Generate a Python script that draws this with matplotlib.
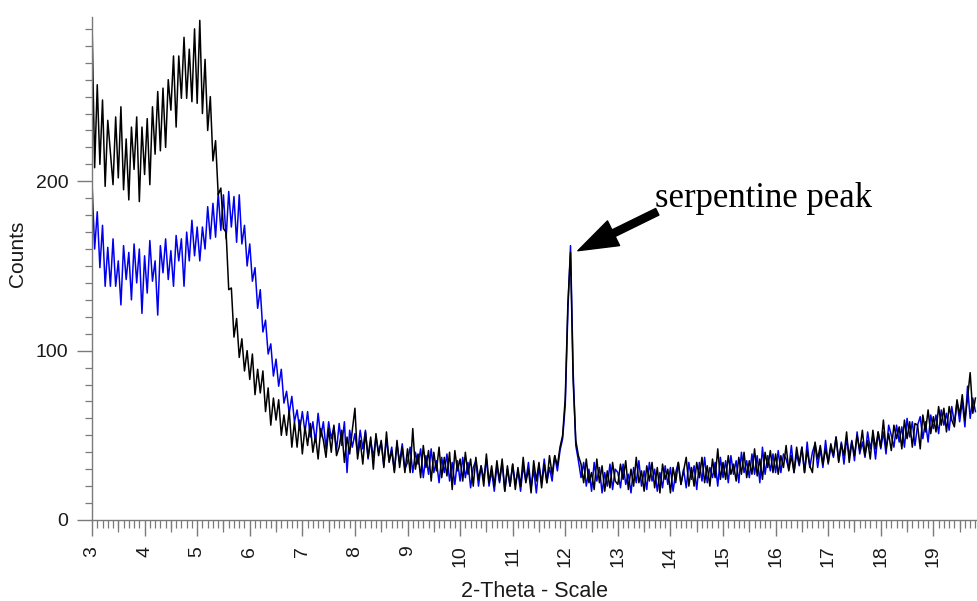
"""XRD pattern: two samples, serpentine peak near 12 deg 2-theta"""
import matplotlib
matplotlib.use('Agg')
import numpy as np
import matplotlib.pyplot as plt
from matplotlib.ticker import MultipleLocator

# 2-theta grid, 0.05 deg step from 3.00 to 19.80
twotheta = np.round(np.arange(3.0, 19.80001, 0.05), 2)

# counts, one row per degree
counts_black = [
    295,208,257,210,248,197,236,217,198,238,202,244,195,225,189,232,207,238,188,232,  # 3
    204,237,198,244,216,253,218,255,220,260,242,274,232,274,249,285,249,278,247,290,  # 4
    246,295,240,272,230,250,212,224,192,196,172,170,136,137,108,119,96,107,88,100,    # 5
    83,98,74,89,75,88,64,78,56,72,59,71,50,62,50,65,43,58,43,59,                      # 6
    39,55,44,57,40,50,36,54,47,37,54,40,56,38,43,53,34,49,39,53,                      # 7
    66,36,47,33,52,37,49,30,51,38,47,31,52,34,41,28,47,31,43,28,                      # 8
    42,28,54,30,39,25,44,31,41,23,40,29,43,25,37,26,40,18,41,29,                      # 9
    36,23,40,27,36,20,37,24,32,20,39,22,32,20,35,23,36,17,32,20,                      # 10
    33,18,31,20,37,22,30,16,35,23,34,19,33,22,38,27,38,32,43,50,                      # 11
    72,128,158,82,47,38,33,22,36,22,28,18,36,22,32,17,29,19,34,23,                    # 12
    21,33,24,35,18,30,20,37,22,29,17,32,23,34,19,31,16,33,24,30,                      # 13
    16,31,22,34,21,29,37,20,31,20,34,25,37,22,32,20,36,25,42,24,                      # 14
    34,24,38,27,33,23,37,27,40,25,35,27,42,26,36,24,40,31,41,28,                      # 15
    39,27,38,31,44,29,38,28,43,33,43,28,41,32,28,46,36,44,33,42,                      # 16
    34,45,38,49,34,45,38,52,34,46,38,50,41,53,38,47,36,53,42,52,                      # 17
    43,59,42,51,41,56,48,55,42,59,48,58,43,57,56,42,62,52,65,51,                      # 18
    61,52,67,56,66,52,67,59,55,71,62,74,59,72,87,63,72,                               # 19
]
counts_blue = [
    200,160,182,149,174,138,161,138,166,138,153,127,162,142,158,130,163,140,160,122,  # 3
    156,134,165,141,153,121,162,146,166,142,159,138,168,153,166,138,170,153,177,156,  # 4
    173,153,173,160,185,166,187,167,193,171,192,166,194,173,191,164,192,163,174,150,  # 5
    163,141,149,125,136,111,118,98,104,85,95,79,89,69,76,63,73,58,65,53,              # 6
    64,52,64,49,58,46,63,49,58,42,58,48,55,41,57,44,58,28,53,43,                      # 7
    51,39,53,42,53,36,47,37,49,40,46,32,48,35,43,29,45,34,45,30,                      # 8
    34,43,28,40,33,42,25,38,27,42,28,35,22,37,28,39,23,34,21,35,                      # 9
    23,37,25,34,19,31,35,20,32,24,36,20,29,17,32,22,34,17,30,20,                      # 10
    33,21,29,17,32,23,34,19,30,16,32,22,36,22,31,23,38,29,41,48,                      # 11
    68,124,162,88,44,35,25,34,20,30,17,34,23,31,16,28,20,33,18,30,                    # 12
    28,19,33,21,27,16,31,22,35,20,29,18,34,23,30,17,28,19,32,21,                      # 13
    31,17,28,34,21,30,19,34,24,32,18,34,23,37,22,31,25,34,20,37,                      # 14
    25,35,22,38,27,35,22,40,28,35,25,39,27,38,22,43,27,38,29,39,                      # 15
    28,41,28,39,36,30,44,28,39,32,43,28,46,31,40,45,31,42,31,47,                      # 16
    33,43,37,49,35,46,33,48,38,47,35,52,39,46,37,52,42,50,36,52,                      # 17
    42,52,39,56,50,43,56,46,55,43,60,49,58,44,56,61,48,58,46,62,                      # 18
    54,62,51,65,56,63,53,67,57,70,58,70,55,79,60,72,64,                               # 19
]
assert len(counts_black) == len(twotheta) == len(counts_blue)

peak_label = 'serpentine peak'
peak_tip = (12.24, 159.)
peak_tail = (13.75, 182.)

axcol = '#7a7a7a'
txtcol = '#1a1a1a'
plt.rcParams['font.family'] = ['Liberation Sans', 'DejaVu Sans']

fig = plt.figure(figsize=(9.77, 6.01), dpi=100)
ax = fig.add_axes([92/977., 81/601., 885/977., 503/601.])

ax.plot(twotheta, counts_blue, color='#0000ee', linewidth=1.1)
ax.plot(twotheta, counts_black, color='k', linewidth=1.1)

ax.set_xlim(3.0, 19.83)
ax.set_ylim(0, 297)

for s in ['top', 'right']:
    ax.spines[s].set_visible(False)
for s in ['left', 'bottom']:
    ax.spines[s].set_color(axcol)
    ax.spines[s].set_linewidth(1.0)

ax.xaxis.set_major_locator(MultipleLocator(1))
ax.xaxis.set_minor_locator(MultipleLocator(0.1))
ax.yaxis.set_major_locator(MultipleLocator(100))
ax.yaxis.set_minor_locator(MultipleLocator(10))
ax.tick_params(axis='x', which='major', length=11.5, width=1.0, color=axcol,
               labelsize=14, labelcolor=txtcol, labelrotation=90, pad=7)
ax.tick_params(axis='x', which='minor', length=5.8, width=0.9, color=axcol)
ax.tick_params(axis='y', which='major', length=11, width=1.0, color=axcol,
               labelsize=14, labelcolor=txtcol, pad=6)
ax.tick_params(axis='y', which='minor', length=5, width=0.9, color=axcol)

# half-degree ticks, a bit longer than the 0.1 ones
sec = ax.secondary_xaxis('bottom')
sec.set_xticks(np.arange(3.5, 20, 1.0))
sec.tick_params(length=8.6, width=0.9, color=axcol, labelbottom=False)
sec.spines['bottom'].set_visible(False)

ax.set_xlabel('2-Theta - Scale', fontsize=15.5, color=txtcol)
ax.set_ylabel('Counts', fontsize=15, color=txtcol)
ax.xaxis.set_label_coords(0.5, -0.121)
ax.yaxis.set_label_coords(-0.073, 0.53)

ax.annotate('', xy=peak_tip, xytext=peak_tail,
            arrowprops=dict(arrowstyle='simple,head_length=1.3,head_width=0.9,tail_width=0.24',
                            color='k', mutation_scale=22, shrinkA=0, shrinkB=0))
ax.text(13.70, 190., peak_label, family=['Liberation Serif', 'DejaVu Serif'],
        fontsize=25, color='k', ha='left', va='center')

plt.savefig('out.png', dpi=100)
